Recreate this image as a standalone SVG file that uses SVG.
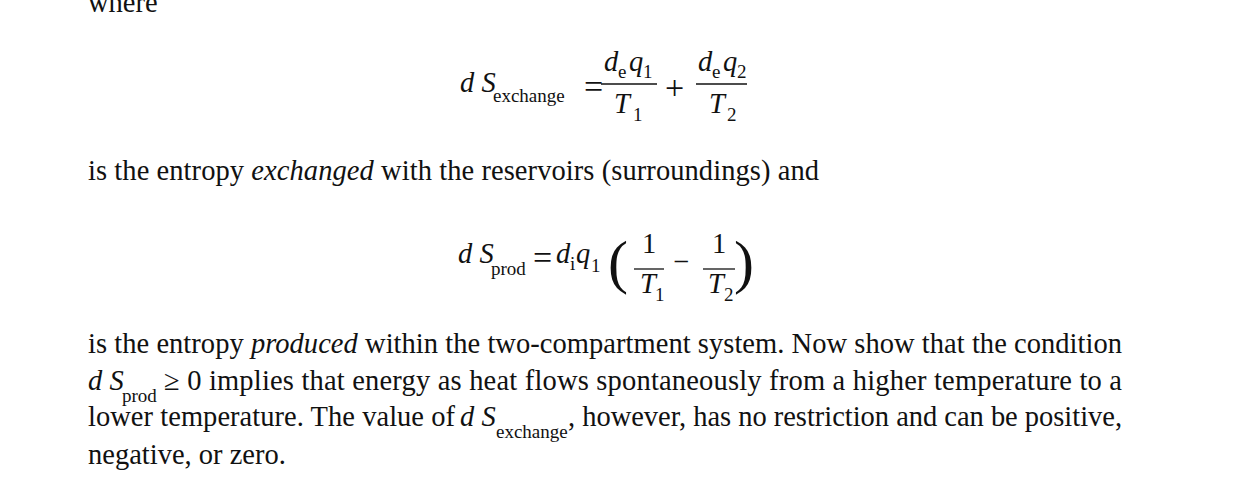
<svg xmlns="http://www.w3.org/2000/svg" width="1245" height="489" viewBox="0 0 1245 489">
<style>
text{font-family:"Liberation Serif","Times New Roman",serif;fill:#111;font-size:28.5px}
.i{font-style:italic}
.s{font-size:19px}
.o{font-size:34px}
.r{stroke:#111;stroke-width:1.3}
</style>
<rect width="1245" height="489" fill="#fff"/>
<g id="where"><text x="88" y="12">where</text></g>
<g id="eq1">
<text x="460" y="92" class="i">d S</text>
<text x="493" y="102" class="s">exchange</text>
<text x="584" y="98" class="o">=</text>
<text x="604" y="71" class="i">d</text><text x="618" y="78" class="s">e</text><text x="629" y="71" class="i">q</text><text x="643" y="78" class="s">1</text>
<line class="r" x1="601" y1="84" x2="657" y2="84"/>
<text x="614" y="113" class="i">T</text><text x="633" y="121" class="s">1</text>
<text x="665" y="99" class="o">+</text>
<text x="698" y="71" class="i">d</text><text x="712" y="78" class="s">e</text><text x="723" y="71" class="i">q</text><text x="737" y="78" class="s">2</text>
<line class="r" x1="696" y1="84" x2="747" y2="84"/>
<text x="709" y="113" class="i">T</text><text x="727" y="121" class="s">2</text>
</g>
<g id="line2"><text x="88" y="180" textLength="731" lengthAdjust="spacing">is the entropy <tspan class="i">exchanged</tspan> with the reservoirs (surroundings) and</text></g>
<g id="eq2">
<text x="458" y="263" class="i">d S</text>
<text x="491" y="275" class="s">prod</text>
<text x="533" y="269" class="o">=</text>
<text x="556" y="263" class="i">d</text><text x="570" y="270" class="s">i</text><text x="576" y="263" class="i">q</text><text x="591" y="272" class="s">1</text>
<text x="608" y="282" style="font-size:60px">(</text>
<text x="642" y="253">1</text>
<line class="r" x1="634" y1="269" x2="664" y2="269"/>
<text x="640" y="293" class="i">T</text><text x="655" y="301" class="s">1</text>
<text x="673" y="271">−</text>
<text x="712" y="253">1</text>
<line class="r" x1="703" y1="269" x2="735" y2="269"/>
<text x="708" y="293" class="i">T</text><text x="724" y="301" class="s">2</text>
<text x="734" y="282" style="font-size:60px">)</text>
</g>
<g id="para">
<text x="88" y="353" textLength="1034" lengthAdjust="spacing">is the entropy <tspan class="i">produced</tspan> within the two-compartment system. Now show that the condition</text>
<text x="88" y="390" class="i">d S</text><text x="122" y="402" class="s">prod</text>
<text x="164" y="390" textLength="958" lengthAdjust="spacing">≥ 0 implies that energy as heat flows spontaneously from a higher temperature to a</text>
<text x="88" y="426" textLength="367" lengthAdjust="spacing">lower temperature. The value of</text>
<text x="460" y="426" class="i">d S</text><text x="496" y="438" class="s">exchange</text>
<text x="568" y="426" textLength="554" lengthAdjust="spacing">, however, has no restriction and can be positive,</text>
<text x="88" y="464">negative, or zero.</text>
</g>
</svg>
